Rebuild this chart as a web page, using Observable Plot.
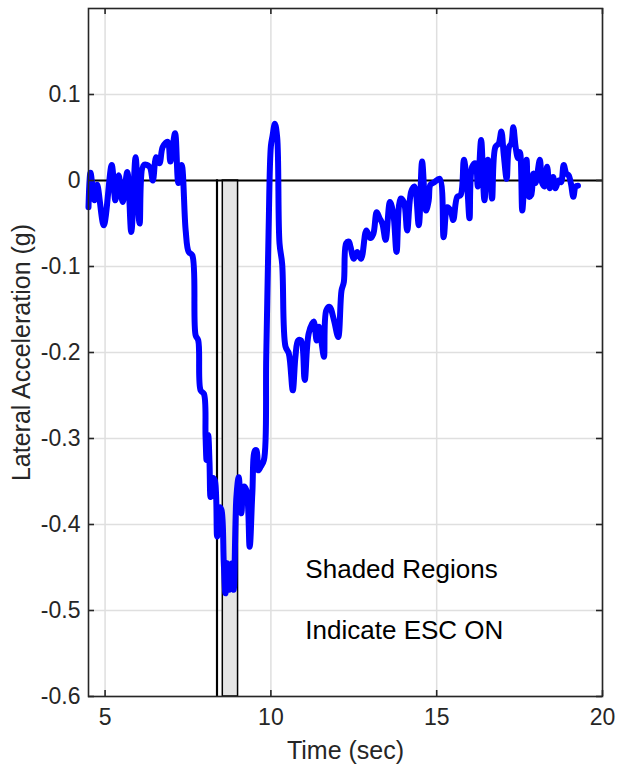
<!DOCTYPE html>
<html>
<head>
<meta charset="utf-8">
<script src="https://cdn.jsdelivr.net/npm/d3@7"></script>
<script src="https://cdn.jsdelivr.net/npm/@observablehq/plot@0.6"></script>
<style>
  html, body { margin: 0; padding: 0; background: #fff; }
</style>
</head>
<body>
<div id="chart"></div>
<script>
// Time (sec)
const time = [
  4.50, 4.56, 4.68, 4.76, 4.96, 5.20, 5.31, 5.41, 5.53, 5.67, 5.79, 5.92, 6.04, 6.17, 6.34, 6.44,
  6.54, 6.64, 6.74, 6.89, 6.97, 7.11, 7.21, 7.31, 7.43, 7.52, 7.63, 7.73, 7.81, 7.88, 7.98, 8.03,
  8.06, 8.11, 8.15, 8.18, 8.25, 8.31, 8.38, 8.46, 8.51, 8.58, 8.63, 8.68, 8.75, 8.83, 8.88, 8.96,
  9.03, 9.11, 9.18, 9.26, 9.36, 9.44, 9.52, 9.57, 9.62, 9.69, 9.79, 9.86, 9.93, 10.00, 10.05, 10.12,
  10.19, 10.26, 10.34, 10.44, 10.54, 10.66, 10.74, 10.82, 10.91, 11.02, 11.14, 11.29, 11.38, 11.45,
  11.52, 11.60, 11.67, 11.77, 11.90, 12.03, 12.13, 12.20, 12.27, 12.35, 12.40, 12.50, 12.60, 12.72,
  12.88, 13.00, 13.09, 13.19, 13.28, 13.36, 13.46, 13.59, 13.69, 13.79, 13.91, 14.01, 14.11, 14.23,
  14.33, 14.46, 14.56, 14.68, 14.76, 14.81, 14.93, 15.09, 15.21, 15.32, 15.42, 15.50, 15.62, 15.72,
  15.82, 15.92, 15.99, 16.07, 16.17, 16.24, 16.34, 16.44, 16.54, 16.60, 16.67, 16.77, 16.87, 16.95,
  17.02, 17.11, 17.18, 17.25, 17.31, 17.38, 17.45, 17.51, 17.58, 17.63, 17.71, 17.78, 17.85, 17.91,
  17.98, 18.11, 18.18, 18.25, 18.33, 18.41, 18.51, 18.58, 18.68, 18.75, 18.83, 18.91, 18.98, 19.05,
  19.12, 19.19, 19.26
];
// Lateral acceleration (g)
const latAccel = [
  -0.031, 0.009, -0.023, -0.005, -0.052, 0.018, -0.023, 0.006, -0.025, 0.010, -0.060, 0.027, -0.050, 0.018, 0.016, 0.000,
  0.027, 0.020, 0.039, 0.045, 0.022, 0.055, -0.003, 0.018, -0.058, -0.083, -0.087, -0.180, -0.186, -0.244, -0.248, -0.298,
  -0.325, -0.296, -0.329, -0.368, -0.346, -0.349, -0.414, -0.380, -0.383, -0.445, -0.480, -0.445, -0.476, -0.445, -0.476, -0.368,
  -0.345, -0.387, -0.356, -0.360, -0.426, -0.364, -0.314, -0.314, -0.337, -0.333, -0.325, -0.205, -0.060, 0.040, 0.052, 0.066,
  0.050, -0.073, -0.097, -0.193, -0.201, -0.244, -0.205, -0.186, -0.186, -0.232, -0.178, -0.164, -0.186, -0.170,
  -0.186, -0.205, -0.151, -0.147, -0.162, -0.182, -0.128, -0.118, -0.073, -0.071, -0.077, -0.091, -0.083, -0.091,
  -0.058, -0.067, -0.062, -0.037, -0.044, -0.050, -0.069, -0.025, -0.038, -0.083, -0.021, -0.025, -0.058, -0.013,
  -0.007, -0.052, 0.022, -0.035, -0.023, -0.005, -0.002, 0.002, -0.066, -0.031, -0.035, -0.046, -0.019, -0.017,
  0.024, -0.007, -0.044, 0.016, 0.020, -0.007, 0.047, -0.023, 0.024, 0.016, -0.021, 0.039, 0.043, 0.057,
  0.031, 0.002, 0.039, 0.043, 0.062, 0.039, 0.026, 0.033, -0.035, -0.011, 0.024, -0.019, -0.017, 0.008,
  -0.003, 0.024, -0.003, -0.007, 0.016, -0.009, 0.004, -0.009, 0.000, -0.002, 0.018, 0.008, 0.006, -0.004,
  -0.019, -0.007, -0.006
];
// ESC ON shaded regions (time start / end)
const escStart = [8.38, 8.55];
const escEnd = [8.40, 9.01];
// Axis ticks
const xTicks = [5, 10, 15, 20];
const yTicks = [-0.6, -0.5, -0.4, -0.3, -0.2, -0.1, 0, 0.1];
const xDomain = [4.5, 20];
const yDomain = [-0.6, 0.2];
const noteLines = ["Shaded Regions", "Indicate ESC ON"];
const noteY = [-0.453, -0.523];
const noteX = 11.04;

const series = time.map((t, i) => ({t, g: latAccel[i]}));
const regions = escStart.map((s, i) => ({s, e: escEnd[i]}));
const notes = noteLines.map((text, i) => ({text, y: noteY[i]}));

const W = 629, H = 765;
const mL = 88, mR = 27, mT = 8, mB = 69;
const tickPx = 6;
const dxTick = tickPx * (xDomain[1] - xDomain[0]) / (W - mL - mR);
const dyTick = tickPx * (yDomain[1] - yDomain[0]) / (H - mT - mB);
const ink = "#262626";

const chart = Plot.plot({
  width: W,
  height: H,
  marginLeft: mL,
  marginRight: mR,
  marginTop: mT,
  marginBottom: mB,
  style: {fontFamily: "'Liberation Sans', Arial, sans-serif", fontSize: "23px", color: ink, background: "#fff"},
  x: {domain: xDomain},
  y: {domain: yDomain},
  marks: [
    Plot.ruleX(xTicks, {stroke: "#dfdfdf", strokeWidth: 1.5}),
    Plot.ruleY(yTicks, {stroke: "#dfdfdf", strokeWidth: 1.5}),
    Plot.rect(regions, {x1: "s", x2: "e", y1: 0, y2: yDomain[0], fill: "#e5e5e5", stroke: "#000", strokeWidth: 1.5}),
    Plot.ruleY([0], {stroke: "#000", strokeWidth: 1.8}),
    Plot.line(series, {x: "t", y: "g", stroke: "#0000ff", strokeWidth: 6, curve: "catmull-rom", strokeLinejoin: "round", strokeLinecap: "round"}),
    Plot.frame({stroke: ink, strokeWidth: 1.6}),
    Plot.ruleX(xTicks, {y1: yDomain[0], y2: yDomain[0] + dyTick, stroke: ink, strokeWidth: 1.6}),
    Plot.ruleX(xTicks, {y1: yDomain[1], y2: yDomain[1] - dyTick, stroke: ink, strokeWidth: 1.6}),
    Plot.ruleY(yTicks, {x1: xDomain[0], x2: xDomain[0] + dxTick, stroke: ink, strokeWidth: 1.6}),
    Plot.ruleY(yTicks, {x1: xDomain[1], x2: xDomain[1] - dxTick, stroke: ink, strokeWidth: 1.6}),
    Plot.axisX(xTicks, {tickSize: 0, tickPadding: 12, fontSize: 23, label: null, tickFormat: d => String(d)}),
    Plot.axisX([], {tickSize: 0, fontSize: 25, label: "Time (sec)", labelAnchor: "center", labelArrow: "none", labelOffset: 62}),
    Plot.axisY(yTicks, {tickSize: 0, tickPadding: 8, fontSize: 23, label: null, tickFormat: d => d === 0 ? "0" : String(d)}),
    Plot.axisY([], {tickSize: 0, fontSize: 25, label: "Lateral Acceleration (g)", labelAnchor: "center", labelArrow: "none", labelOffset: 76}),
    Plot.text(notes, {x: noteX, y: "y", text: "text", textAnchor: "start", fontSize: 26, fill: "#000"})
  ]
});
document.getElementById("chart").appendChild(chart);
</script>
</body>
</html>
